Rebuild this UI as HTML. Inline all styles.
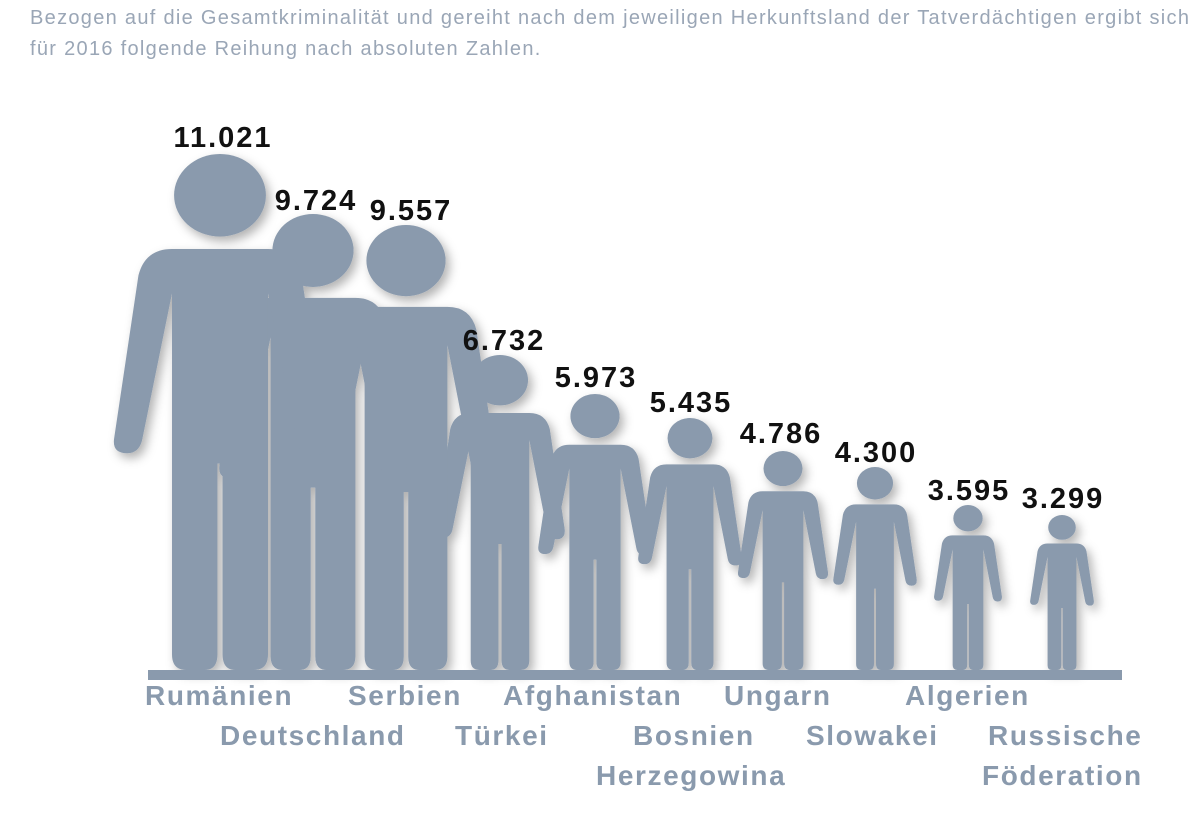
<!DOCTYPE html>
<html><head><meta charset="utf-8"><style>
body{margin:0;background:#fff;width:1200px;height:814px;overflow:hidden;font-family:"Liberation Sans",sans-serif}
</style></head><body>
<svg width="1200" height="814" viewBox="0 0 1200 814" xmlns="http://www.w3.org/2000/svg">
<defs>
<filter id="sh" x="-30%" y="-10%" width="160%" height="130%">
<feDropShadow dx="4" dy="5" stdDeviation="5" flood-color="#000" flood-opacity="0.3"/>
</filter>
<g id="p">
<ellipse cx="0" cy="8" rx="8.9" ry="8"/>
<path d="M -9.3 18.4 L 9.3 18.4 Q 14.5 18.4 15.8 23.5 L 20.5 55 Q 21 58.5 18 58.5 Q 15.5 58.5 15 56 L 9.3 27 L 9.3 97 Q 9.3 100 6.5 100 L 3 100 Q 0.5 100 0.5 97 L 0.5 60 L -0.5 60 L -0.5 97 Q -0.5 100 -3 100 L -6.5 100 Q -9.3 100 -9.3 97 L -9.3 27 L -15 55 Q -15.5 58 -18 58 Q -21 58 -20.5 55 L -15.8 23.5 Q -14.5 18.4 -9.3 18.4 Z"/>
</g>
</defs>
<text font-size="20" fill="#9aa6b6" letter-spacing="1.3"><tspan x="30" y="24">Bezogen auf die Gesamtkriminalität und gereiht nach dem jeweiligen Herkunftsland der Tatverdächtigen ergibt sich</tspan><tspan x="30" y="55">für 2016 folgende Reihung nach absoluten Zahlen.</tspan></text>
<g fill="#8a9aad" filter="url(#sh)">
<use href="#p" transform="translate(1062,515) scale(1.55)"/>
<use href="#p" transform="translate(968,505) scale(1.65)"/>
<use href="#p" transform="translate(875,467) scale(2.03)"/>
<use href="#p" transform="translate(783,451) scale(2.19)"/>
<use href="#p" transform="translate(690,418) scale(2.52)"/>
<use href="#p" transform="translate(595,394) scale(2.76)"/>
<use href="#p" transform="translate(500,355) scale(3.15)"/>
<use href="#p" transform="translate(406,225) scale(4.45)"/>
<use href="#p" transform="translate(313,214) scale(4.56)"/>
<use href="#p" transform="translate(220,154) scale(5.16)"/>
</g>
<rect x="148" y="670" width="974" height="10" fill="#8a9aad"/>
<g font-size="29" font-weight="bold" fill="#111" text-anchor="middle" letter-spacing="2">
<text x="223" y="147">11.021</text>
<text x="316" y="210">9.724</text>
<text x="411" y="220">9.557</text>
<text x="504" y="350">6.732</text>
<text x="596" y="387">5.973</text>
<text x="691" y="412">5.435</text>
<text x="781" y="443">4.786</text>
<text x="876" y="462">4.300</text>
<text x="969" y="500">3.595</text>
<text x="1063" y="508">3.299</text>
</g>
<g font-size="28" font-weight="bold" fill="#8a9aad" letter-spacing="1.6">
<text x="145" y="705">Rumänien</text>
<text x="220" y="745">Deutschland</text>
<text x="348" y="705">Serbien</text>
<text x="455" y="745">Türkei</text>
<text x="503" y="705">Afghanistan</text>
<text x="633" y="745">Bosnien</text>
<text x="596" y="785">Herzegowina</text>
<text x="724" y="705">Ungarn</text>
<text x="806" y="745">Slowakei</text>
<text x="905" y="705">Algerien</text>
<text x="988" y="745">Russische</text>
<text x="982" y="785">Föderation</text>
</g>
</svg>
</body></html>
